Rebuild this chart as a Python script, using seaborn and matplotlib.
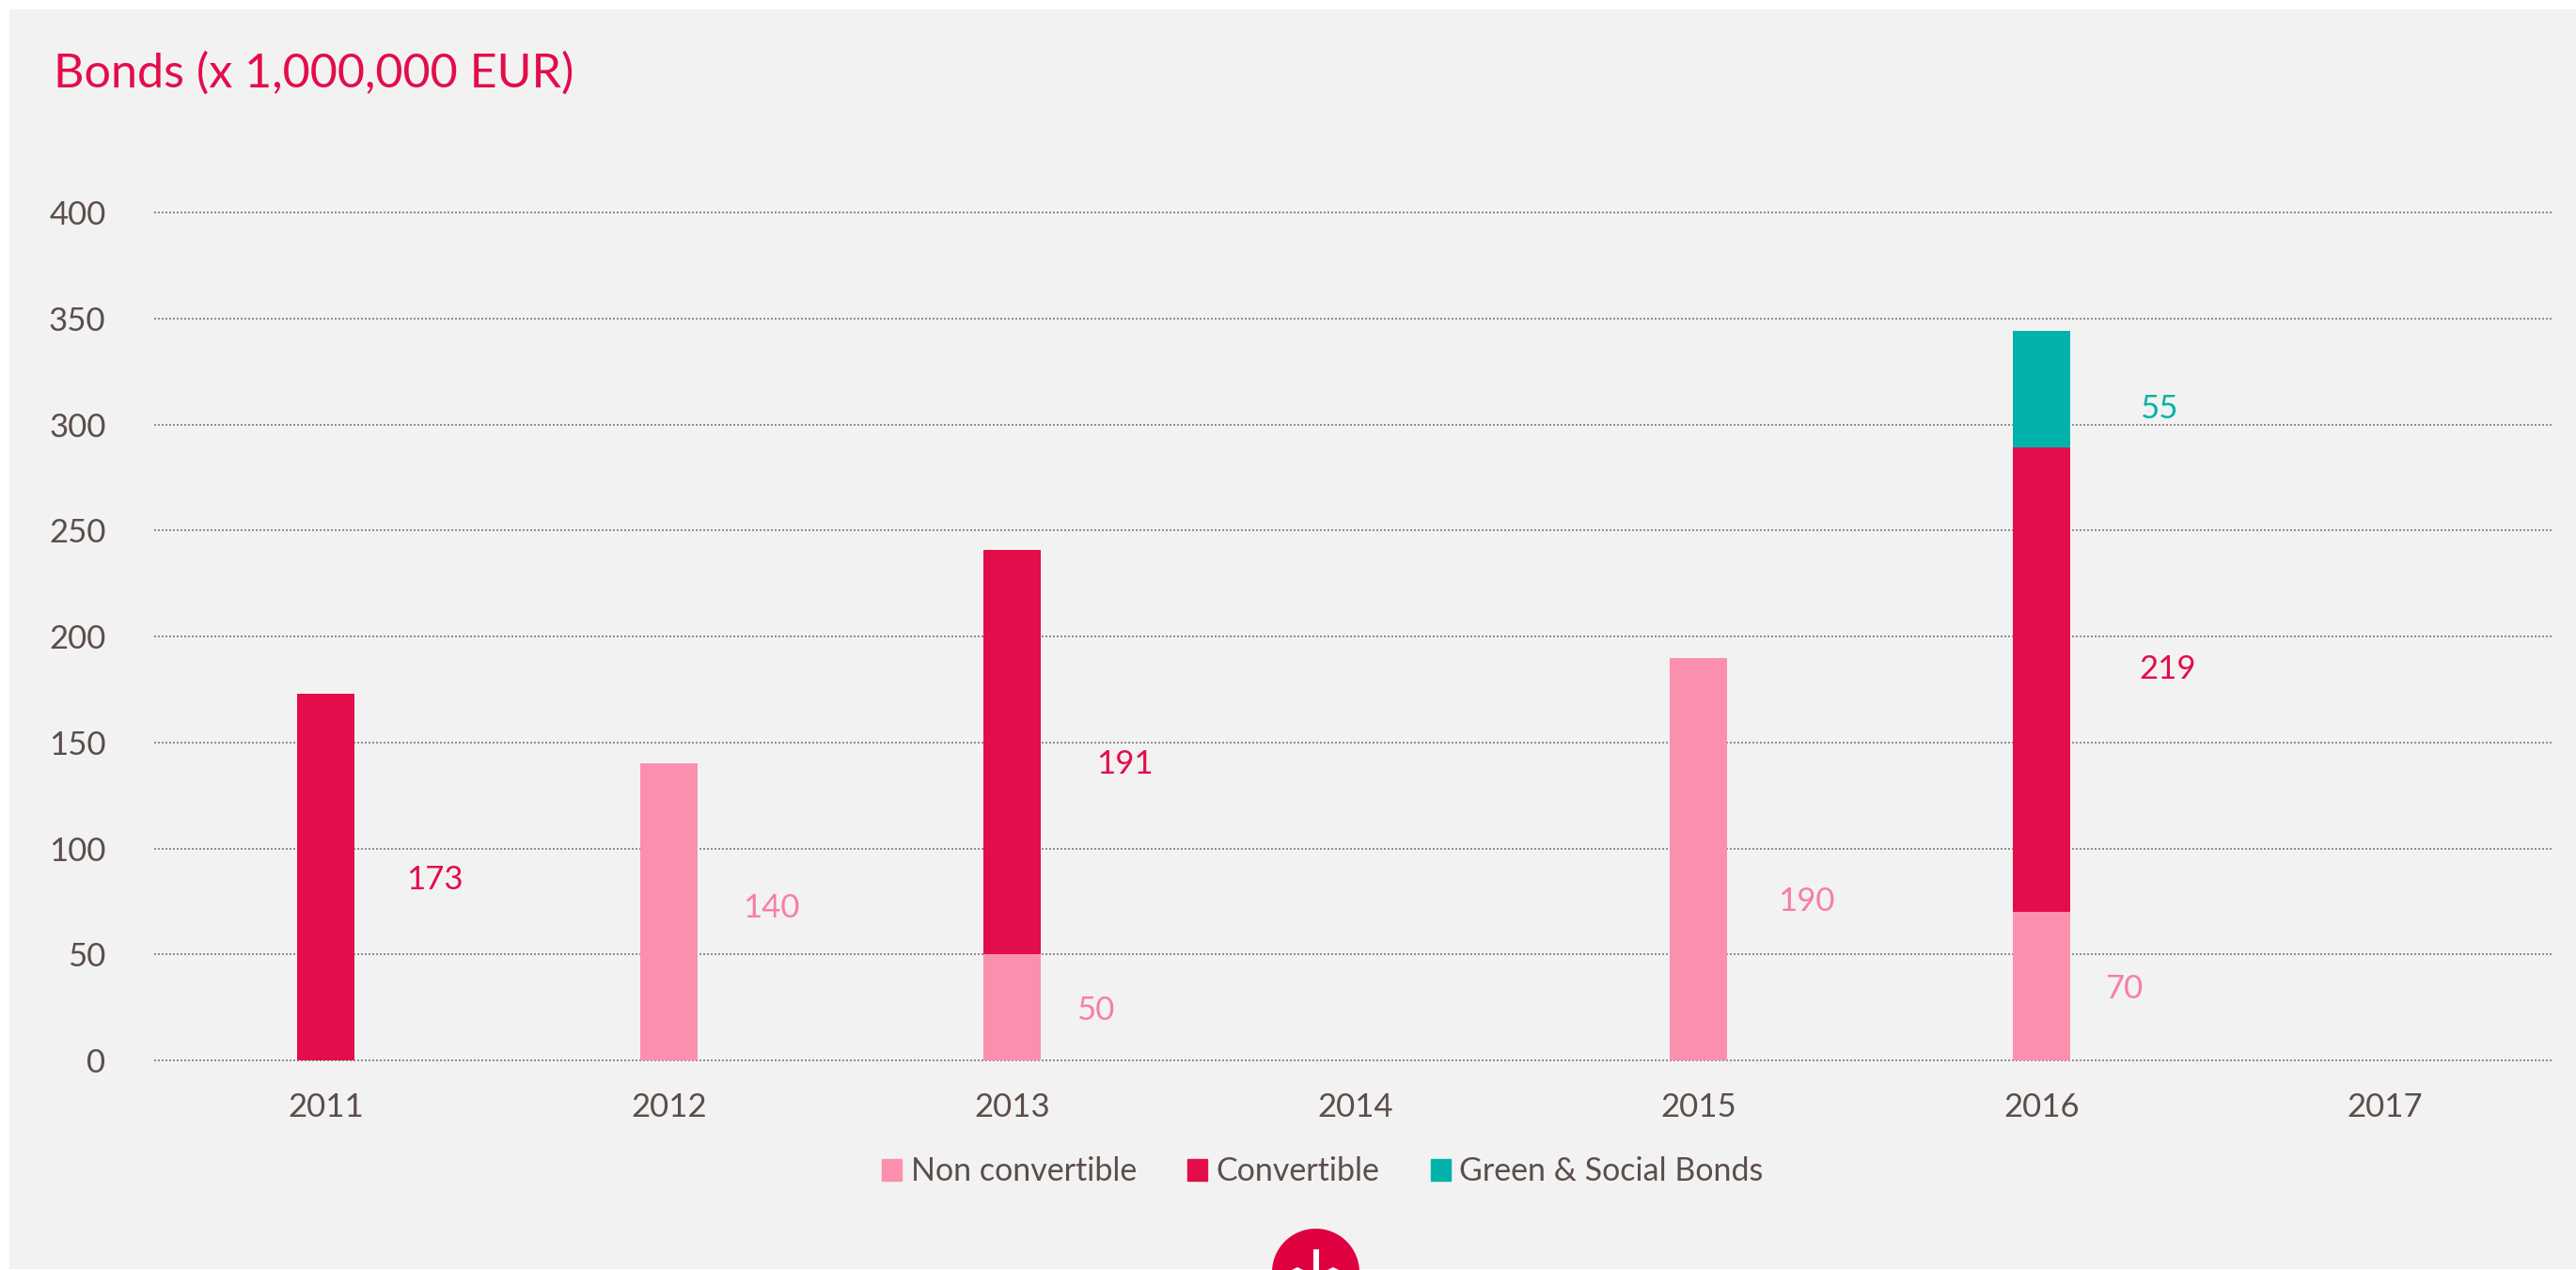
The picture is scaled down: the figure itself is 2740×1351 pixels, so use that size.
import matplotlib
matplotlib.use("Agg")
import matplotlib.pyplot as plt
from matplotlib.patches import Circle, Patch, Polygon, Rectangle
import numpy as np
import seaborn as sns

years = ["2011", "2012", "2013", "2014", "2015", "2016", "2017"]
non_convertible = [0, 140, 50, 0, 190, 70, 0]
convertible = [173, 0, 191, 0, 0, 219, 0]
green_social = [0, 0, 0, 0, 0, 55, 0]
y_ticks = [0, 50, 100, 150, 200, 250, 300, 350, 400]

PINK, RED, TEAL = "#FB90AE", "#E30D4B", "#00B2A9"
PINK_TEXT = "#F77FA3"
INK = "#5B4E4A"
PANEL = "#F2F2F2"
W, H = 2740, 1351

sns.set_theme(style="white")
plt.rcParams["font.family"] = ["Lato", "DejaVu Sans"]

fig = plt.figure(figsize=(W / 100, H / 100), dpi=100, facecolor="white")
fig.add_artist(Rectangle((10 / W, 1 / H), (W - 10) / W, (H - 11) / H,
                         transform=fig.transFigure, fc=PANEL, ec="none", zorder=-1))
ax = fig.add_axes([164 / W, (H - 1128) / H, 2555 / W, 902 / H])
ax.patch.set_alpha(0)

base = np.zeros(len(years))
for values, colour in [(non_convertible, PINK), (convertible, RED), (green_social, TEAL)]:
    sns.barplot(x=years, y=values, order=years, color=colour, width=0.167,
                bottom=base, saturation=1, ax=ax, zorder=3, linewidth=0)
    base = base + np.array(values)

ax.set_xlim(-0.5, 6.5)
ax.set_ylim(0, 400)
ax.set_yticks(y_ticks)
for tick in y_ticks:
    ax.axhline(tick, xmax=2552 / 2555, color="#918E8E", lw=1.44, ls=(0, (1, 1)), zorder=1, clip_on=False)
sns.despine(ax=ax, left=True, bottom=True, top=True, right=True)
ax.tick_params(axis="both", length=0, labelcolor=INK, labelsize=25)
ax.tick_params(axis="x", pad=24.5)
ax.tick_params(axis="y", pad=37)
ax.set_xlabel("")
ax.set_ylabel("")

# Value labels sit to the right of each segment: (year index, shift in px, height, text, colour)
value_labels = [
    (0, 116, 85, "173", RED),
    (1, 109, 72, "140", PINK_TEXT),
    (2, 120, 139.5, "191", RED),
    (2, 89, 23.5, "50", PINK_TEXT),
    (4, 115, 75, "190", PINK_TEXT),
    (5, 134, 184.5, "219", RED),
    (5, 88, 33.5, "70", PINK_TEXT),
    (5, 125, 307.5, "55", TEAL),
]
for idx, shift, height, text, colour in value_labels:
    ax.annotate(text, xy=(idx, height), xytext=(shift * 0.72, 0), textcoords="offset points",
                ha="center", va="center", fontsize=25, color=colour)

fig.text(57 / W, 1 - 92.5 / H, "Bonds (x 1,000,000 EUR)", color=RED, fontsize=36.2,
         ha="left", va="baseline")

handles = [Patch(color=PINK, label="Non convertible"),
           Patch(color=RED, label="Convertible"),
           Patch(color=TEAL, label="Green & Social Bonds")]
fig.legend(handles=handles, ncol=3, loc="center", bbox_to_anchor=(1407 / W, 1 - 1246.5 / H),
           frameon=False, fontsize=24.5, labelcolor=INK, handlelength=0.62, handleheight=0.62,
           handletextpad=0.27, columnspacing=1.6, borderpad=0)

# Round brand mark cut off by the lower edge of the panel, with its white stem and shoulders
fig.add_artist(Circle((1399.5, H - 1353.5), 46.5, transform=None, fc="#DE003F", ec="none", zorder=5))
fig.add_artist(Rectangle((1396.5, 0), 6, H - 1329, transform=None, fc="white", ec="none", zorder=6))
for centre in (1380, 1418):
    fig.add_artist(Polygon([(centre - 6, 0), (centre, H - 1348), (centre + 6, 0)],
                           transform=None, fc="white", ec="none", zorder=6))

fig.savefig("out.png", dpi=100, facecolor="white")
